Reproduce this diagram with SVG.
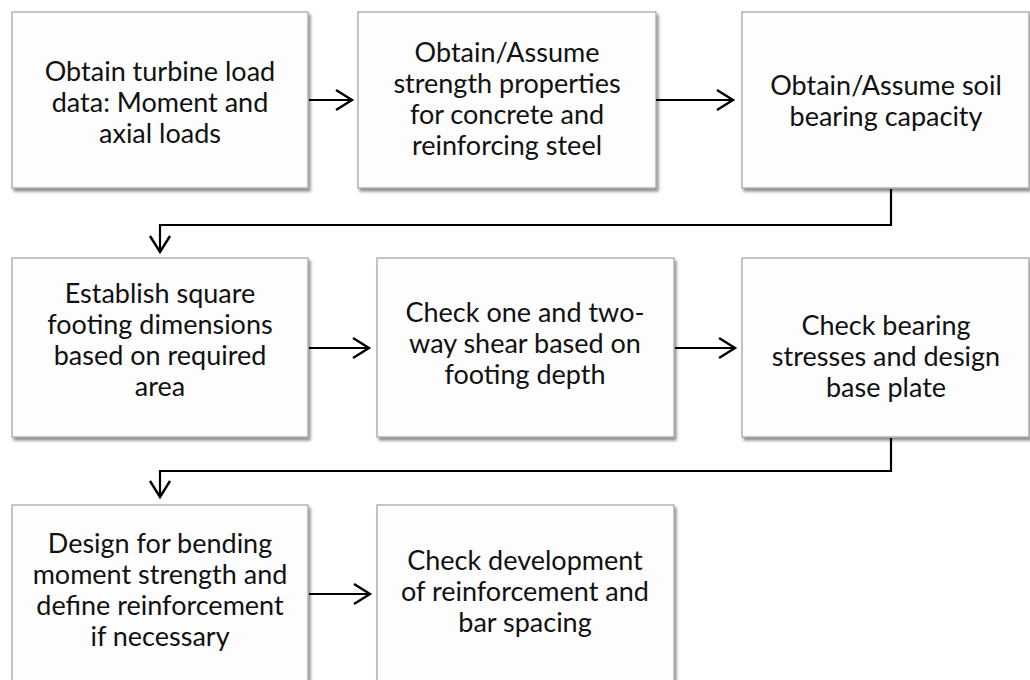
<svg xmlns="http://www.w3.org/2000/svg" width="1030" height="680" viewBox="0 0 1030 680">
<style>
.box{fill:#fdfdfd;stroke:#a0a0a0;stroke-width:1.2;filter:url(#sh)}
.t{font-family:Lato,"Noto Sans",sans-serif;font-size:27px;fill:#111;text-anchor:middle}
.c{fill:none;stroke:#000;stroke-width:2.2}
</style>
<defs>
<filter id="sh" x="-5%" y="-5%" width="115%" height="115%">
<feDropShadow dx="2" dy="3" stdDeviation="1.6" flood-color="#000" flood-opacity="0.45"/>
</filter>
<marker id="ah" markerUnits="userSpaceOnUse" markerWidth="24" markerHeight="24" viewBox="-20 -12 24 24" refX="0" refY="0" orient="auto">
<path d="M-16,-10 L0,0 L-16,10" fill="none" stroke="#000" stroke-width="2.4"/>
</marker>
</defs>
<rect width="1030" height="680" fill="#fff"/>
<g id="n1"><rect class="box" x="12" y="12" width="296" height="176"/>
<text class="t"><tspan x="160" y="81">Obtain turbine load</tspan><tspan x="160" y="112">data: Moment and</tspan><tspan x="160" y="143">axial loads</tspan></text></g>
<g id="n2"><rect class="box" x="358" y="12" width="298" height="176"/>
<text class="t"><tspan x="507" y="62">Obtain/Assume</tspan><tspan x="507" y="93">strength properties</tspan><tspan x="507" y="124">for concrete and</tspan><tspan x="507" y="155">reinforcing steel</tspan></text></g>
<g id="n3"><rect class="box" x="742" y="12" width="287" height="176"/>
<text class="t"><tspan x="886" y="95">Obtain/Assume soil</tspan><tspan x="886" y="126">bearing capacity</tspan></text></g>
<g id="n4"><rect class="box" x="12" y="258" width="296" height="179"/>
<text class="t"><tspan x="160" y="303">Establish square</tspan><tspan x="160" y="334">footing dimensions</tspan><tspan x="160" y="365">based on required</tspan><tspan x="160" y="396">area</tspan></text></g>
<g id="n5"><rect class="box" x="377" y="258" width="297" height="179"/>
<text class="t"><tspan x="525" y="322">Check one and two-</tspan><tspan x="525" y="353">way shear based on</tspan><tspan x="525" y="384">footing depth</tspan></text></g>
<g id="n6"><rect class="box" x="742" y="258" width="287" height="179"/>
<text class="t"><tspan x="886" y="335">Check bearing</tspan><tspan x="886" y="366">stresses and design</tspan><tspan x="886" y="397">base plate</tspan></text></g>
<g id="n7"><rect class="box" x="12" y="505" width="296" height="190"/>
<text class="t"><tspan x="160" y="553">Design for bending</tspan><tspan x="160" y="584">moment strength and</tspan><tspan x="160" y="615">define reinforcement</tspan><tspan x="160" y="646">if necessary</tspan></text></g>
<g id="n8"><rect class="box" x="377" y="505" width="297" height="190"/>
<text class="t"><tspan x="525" y="570">Check development</tspan><tspan x="525" y="601">of reinforcement and</tspan><tspan x="525" y="632">bar spacing</tspan></text></g>
<g id="connectors">
<path class="c" d="M309,100 H352" marker-end="url(#ah)"/>
<path class="c" d="M656,100 H733" marker-end="url(#ah)"/>
<path class="c" d="M891,189 V225 H160 V252" marker-end="url(#ah)"/>
<path class="c" d="M309,348 H369" marker-end="url(#ah)"/>
<path class="c" d="M675,348 H735" marker-end="url(#ah)"/>
<path class="c" d="M891,438 V471 H160 V497" marker-end="url(#ah)"/>
<path class="c" d="M309,594 H370" marker-end="url(#ah)"/>
</g>
</svg>
